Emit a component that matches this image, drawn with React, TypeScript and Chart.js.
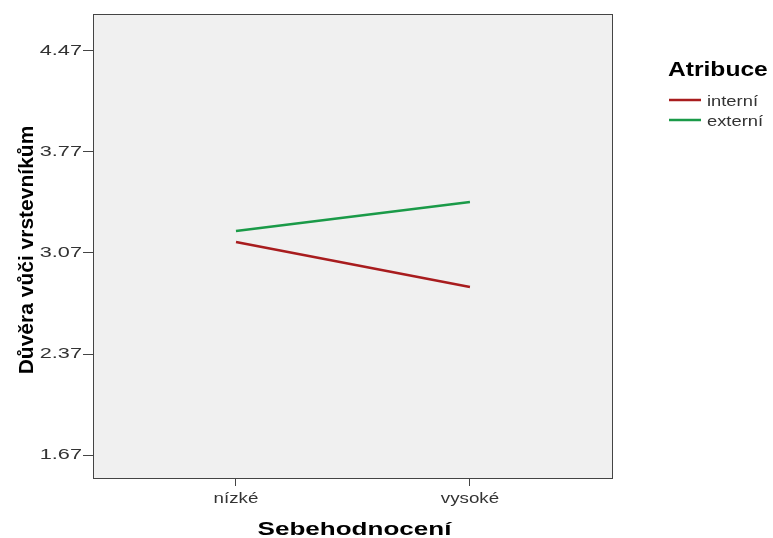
import React, { useEffect, useRef } from "react";
import { Chart, registerables } from "chart.js";

Chart.register(...registerables);

const categories = ["nízké", "vysoké"];
const seriesNames = ["interní", "externí"];
const interni = [3.146, 2.834];
const externi = [3.222, 3.423];
const yTicks = [1.67, 2.37, 3.07, 3.77, 4.47];
const colors = ["#a81c1e", "#1a9a48"];
const xTitle = "Sebehodnocení";
const yTitle = "Důvěra vůči vrstevníkům";
const legendTitle = "Atribuce";

const FONT = "'Liberation Sans', Arial, sans-serif";

function stretchedText(ctx: any, text: string, x: number, y: number, sx: number, rot = 0) {
  ctx.save();
  ctx.translate(x, y);
  if (rot) ctx.rotate(rot);
  ctx.scale(sx, 1);
  ctx.fillText(text, 0, 0);
  ctx.restore();
}

export default function App() {
  const ref = useRef<HTMLCanvasElement | null>(null);
  useEffect(() => {
    document.body.style.margin = "0";
    const canvas = ref.current!;
    const boxPlugin = {
      id: "boxPlugin",
      beforeDraw(chart: any) {
        const { ctx, chartArea: a } = chart;
        ctx.save();
        ctx.fillStyle = "#f0f0f0";
        ctx.fillRect(a.left, a.top, a.right - a.left, a.bottom - a.top);
        ctx.restore();
      },
      afterDraw(chart: any) {
        const { ctx, chartArea: a } = chart;
        const xs = chart.scales.x;
        const ys = chart.scales.y;
        ctx.save();
        ctx.strokeStyle = "#444";
        ctx.lineWidth = 1;
        ctx.strokeRect(Math.round(a.left) + 0.5, Math.round(a.top) + 0.5, Math.round(a.right - a.left), Math.round(a.bottom - a.top));
        // tick labels from the library scales
        ctx.fillStyle = "#333";
        ctx.textBaseline = "middle";
        ctx.font = `14px ${FONT}`;
        ctx.textAlign = "right";
        ys.ticks.forEach((t: any) => {
          stretchedText(ctx, Number(t.value).toFixed(2), a.left - 11, ys.getPixelForValue(t.value), 1.55);
        });
        ctx.textAlign = "center";
        xs.ticks.forEach((t: any) => {
          stretchedText(ctx, categories[t.value], xs.getPixelForValue(t.value), a.bottom + 21, 1.34);
        });
        // axis titles
        ctx.fillStyle = "#000";
        ctx.font = `bold 19px ${FONT}`;
        stretchedText(ctx, xTitle, (a.left + a.right) / 2 + 2, 530, 1.37);
        ctx.font = `bold 21px ${FONT}`;
        stretchedText(ctx, yTitle, 27, 250, 1, -Math.PI / 2);
        // legend
        const lx = 668;
        ctx.textAlign = "left";
        ctx.font = `bold 20px ${FONT}`;
        stretchedText(ctx, legendTitle, lx, 70, 1.23);
        ctx.font = `14px ${FONT}`;
        chart.data.datasets.forEach((ds: any, i: number) => {
          const y = 100 + i * 20;
          ctx.strokeStyle = ds.borderColor;
          ctx.lineWidth = 2.5;
          ctx.beginPath();
          ctx.moveTo(lx + 1, y);
          ctx.lineTo(lx + 33, y);
          ctx.stroke();
          ctx.fillStyle = "#333";
          stretchedText(ctx, ds.label, lx + 39, y + 2, 1.31);
        });
        ctx.restore();
      },
    };
    const chart = new Chart(canvas, {
      type: "line",
      data: {
        datasets: [
          { label: seriesNames[0], data: interni.map((v, i) => ({ x: i, y: v })), borderColor: colors[0], backgroundColor: colors[0], borderWidth: 2.5, pointRadius: 0, tension: 0 },
          { label: seriesNames[1], data: externi.map((v, i) => ({ x: i, y: v })), borderColor: colors[1], backgroundColor: colors[1], borderWidth: 2.5, pointRadius: 0, tension: 0 },
        ],
      },
      options: {
        animation: false,
        responsive: false,
        layout: { padding: { top: 14, right: 161, left: 0, bottom: 0 } },
        plugins: { legend: { display: false }, tooltip: { enabled: false } },
        scales: {
          x: {
            type: "linear",
            min: -0.611,
            max: 1.607,
            afterBuildTicks: (s: any) => { s.ticks = categories.map((_, i) => ({ value: i })); },
            afterFit: (s: any) => { s.height = 60; },
            ticks: { display: false },
            grid: { drawOnChartArea: false, drawTicks: true, tickLength: 8, color: "#444" },
            border: { display: true, color: "#444" },
            title: { display: false, text: xTitle },
          },
          y: {
            type: "linear",
            min: 1.511,
            max: 4.726,
            afterBuildTicks: (s: any) => { s.ticks = yTicks.map((v) => ({ value: v })); },
            afterFit: (s: any) => { s.width = 93; },
            ticks: { display: false },
            grid: { drawOnChartArea: false, drawTicks: true, tickLength: 10, color: "#444" },
            border: { display: true, color: "#444" },
            title: { display: false, text: yTitle },
          },
        },
      },
      plugins: [boxPlugin],
    });
    return () => chart.destroy();
  }, []);
  return (
    <div style={{ width: 773, height: 538 }}>
      <canvas ref={ref} width={773} height={538} style={{ display: "block" }} />
    </div>
  );
}
